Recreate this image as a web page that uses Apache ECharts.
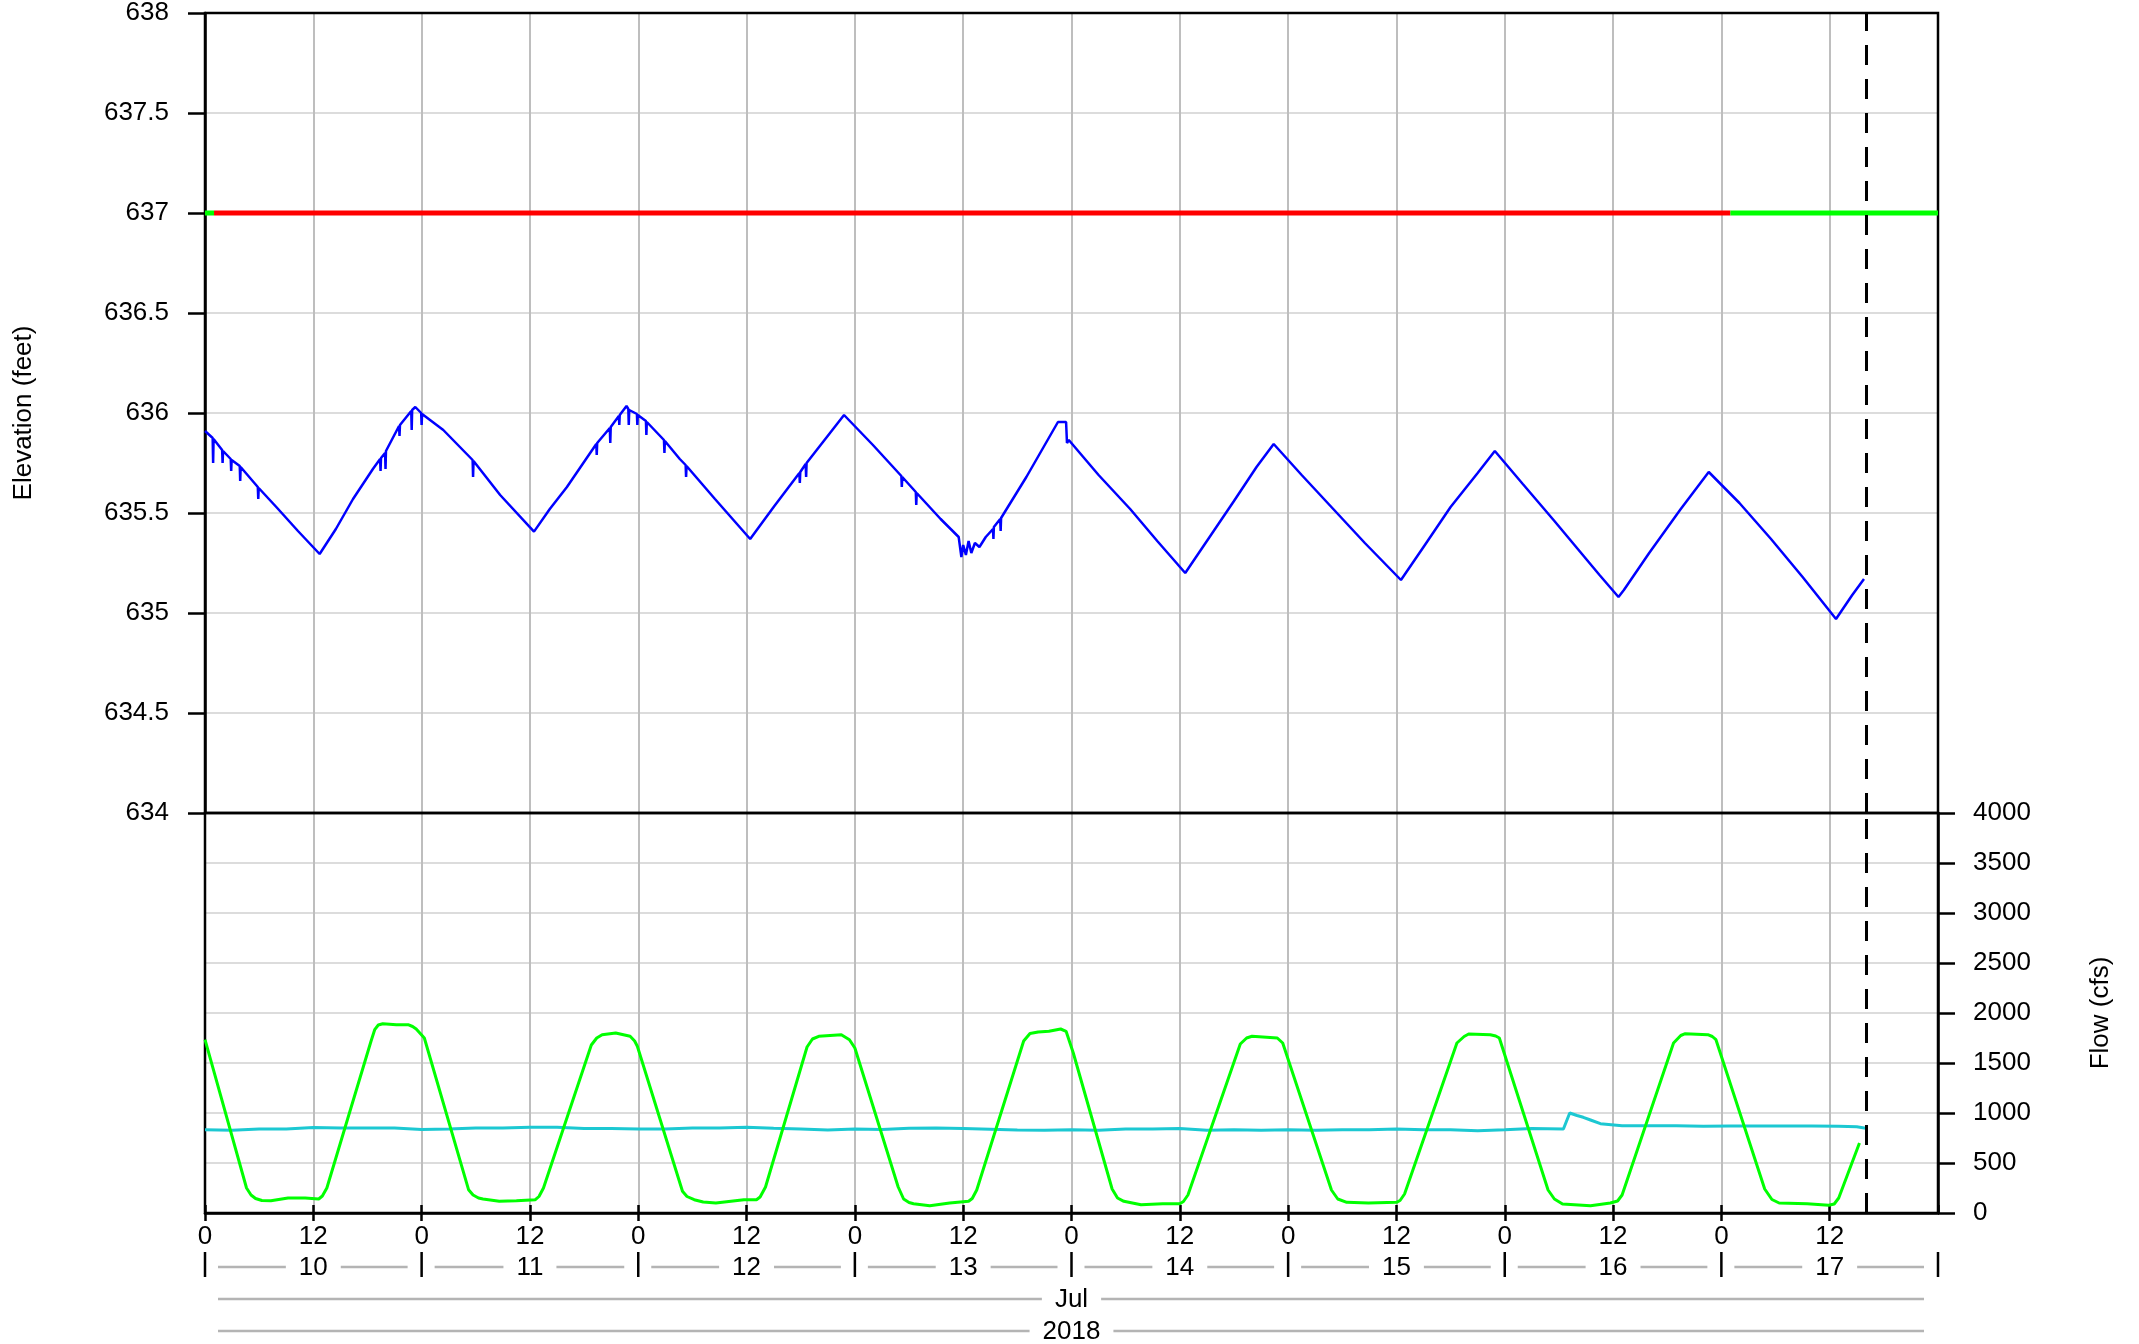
<!DOCTYPE html>
<html>
<head>
<meta charset="utf-8">
<script src="https://cdn.jsdelivr.net/npm/echarts@6/dist/echarts.min.js"></script>
<style>
  html, body { margin: 0; padding: 0; background: #fff; }
  #chart { width: 2139px; height: 1344px; }
</style>
</head>
<body>
<div id="chart"></div>
<script>
// hours are counted from 2018-07-10 00:00
const elevHours = [0, 0.85, 0.9, 0.95, 1.9, 1.95, 2.0, 2.85, 2.9, 2.95, 3.85, 3.9, 3.95, 5.85, 5.9, 5.95, 7.9, 10.3, 12.7,
  14.5, 16.4, 18.6, 19.4, 19.45, 19.5, 19.95, 20.0, 20.05, 21.5, 21.55, 21.6, 22.85, 22.9, 22.95, 23.3, 23.95, 24.0, 24.05,
  26.4, 29.65, 29.7, 29.75, 32.7, 36.45, 38.2, 40.1, 43.35, 43.4, 43.45, 44.85, 44.9, 44.95, 45.85, 45.9, 45.95, 46.7,
  46.9, 46.95, 47.0, 47.85, 47.9, 47.95, 48.85, 48.9, 48.95, 50.85, 50.9, 50.95, 52.6, 53.25, 53.3, 53.35, 56.5, 60.4,
  63.0, 65.85, 65.9, 65.95, 66.55, 66.6, 66.65, 70.8, 74.0, 77.15, 77.2, 77.25, 78.75, 78.8, 78.85, 81.5, 83.5, 83.8,
  84.0, 84.3, 84.6, 84.9, 85.3, 85.8, 86.5, 87.3, 87.35, 87.4, 88.1, 88.15, 88.2, 91.0, 94.5, 95.4, 95.5, 95.7, 99.0,
  102.5, 105.5, 108.6, 111.0, 114.0, 116.5, 118.4, 121.5, 125.0, 128.5, 132.5, 135.0, 138.0, 141.0, 142.9, 146.0, 149.5,
  152.0, 154.5, 156.6, 157.2, 160.0, 163.5, 166.6, 170.0, 173.5, 177.0, 180.7, 182.5, 183.8];
const elevFeet = [635.91, 635.875, 635.75, 635.87, 635.815, 635.75, 635.81, 635.77, 635.71, 635.765, 635.735, 635.66, 635.73,
  635.63, 635.57, 635.625, 635.53, 635.41, 635.295,
  635.42, 635.57, 635.72, 635.77, 635.71, 635.775, 635.80, 635.72, 635.81, 635.935, 635.885, 635.94, 636.01, 635.915,
  636.015, 636.03, 636.0, 635.94, 635.995,
  635.915, 635.765, 635.68, 635.76, 635.59, 635.407, 635.52, 635.63, 635.845, 635.79, 635.85, 635.925, 635.85, 635.93,
  635.985, 635.94, 635.99, 636.035,
  636.02, 635.94, 636.015, 635.995, 635.94, 635.99, 635.96, 635.89, 635.955, 635.865, 635.80, 635.86, 635.77, 635.74,
  635.68, 635.735, 635.57, 635.37,
  635.53, 635.70, 635.65, 635.705, 635.745, 635.68, 635.75, 635.99, 635.84, 635.685, 635.63, 635.68, 635.605, 635.54,
  635.60, 635.47, 635.38, 635.28,
  635.34, 635.29, 635.36, 635.30, 635.35, 635.33, 635.38, 635.42, 635.37, 635.43, 635.47, 635.41, 635.475, 635.68,
  635.955, 635.955, 635.85, 635.865, 635.69,
  635.52, 635.36, 635.20, 635.36, 635.56, 635.73, 635.845, 635.69, 635.52, 635.35, 635.165, 635.33, 635.53, 635.70,
  635.81, 635.645, 635.46,
  635.325, 635.19, 635.08, 635.115, 635.30, 635.52, 635.705, 635.55, 635.37, 635.18, 634.97, 635.09, 635.17];

// guide level at 637 ft, split where its status changes
const guideLevel = 637;
const guideBreaks = [0, 1, 169, 192];
const guideStatus = ['met', 'below', 'met'];

const outflowHours = [0, 4.6, 5.1, 5.6, 6.3, 7.3, 9.2, 11.1, 12.6, 13.0, 13.5, 18.4, 18.8, 19.2, 19.7, 21.2, 22.5, 23.0,
  23.4, 24.3, 29.2, 29.7, 30.3, 30.8, 32.6, 34.5, 36.6, 37.0, 37.5, 42.8, 43.4, 44, 45.5, 47.1, 47.6, 47.9, 52.9, 53.4,
  54.2, 55.2, 56.6, 59.7, 61.1, 61.5, 62.1, 66.7, 67.3, 68, 70.5, 71.4, 72, 76.8, 77.4, 78.0, 78.5, 80.3, 82.5, 84.6,
  85.0, 85.5, 90.7, 91.4, 92.3, 93.5, 94.8, 95.4, 96.2, 100.5, 101.1, 101.8, 103.7, 106.1, 108, 108.4, 108.9, 114.7,
  115.4, 116, 118.8, 119.4, 124.8, 125.5, 126.5, 128.9, 132, 132.4, 132.9, 138.7, 139.5, 140, 142.4, 143.0, 143.4, 148.8,
  149.5, 150.4, 153.5, 155.7, 156.5, 157.0, 162.7, 163.5, 164, 166.5, 167.0, 167.4, 172.8, 173.6, 174.4, 177.5, 179.9,
  180.5, 181.0, 183.3];
const outflowCfs = [1733, 250, 180, 145, 125, 123, 150, 150, 140, 170, 250, 1720, 1833, 1880, 1893, 1883, 1883, 1865,
  1840, 1750, 233, 180, 150, 140, 117, 123, 133, 165, 250, 1680, 1750, 1783, 1800, 1767, 1720, 1667, 217, 165,
  133, 110, 100, 133, 133, 160, 260, 1660, 1740, 1767, 1783, 1733, 1650, 260, 140, 105, 93, 73, 100, 117,
  145, 230, 1720, 1795, 1810, 1817, 1840, 1817, 1600, 240, 150, 117, 83, 93, 93, 115, 180, 1690,
  1750, 1767, 1750, 1700, 230, 140, 107, 100, 107, 125, 190, 1700, 1765, 1790, 1783, 1770, 1750, 230,
  140, 90, 73, 100, 120, 180, 1700, 1775, 1793, 1783, 1765, 1733, 240, 135, 100, 93, 77,
  90, 150, 700];

const inflowHours = [0, 3, 6, 9, 12, 15, 18, 21, 24, 27, 30, 33, 36, 39, 42, 45, 48, 51, 54, 57, 60, 63, 66, 69, 72, 75,
  78, 81, 84, 87, 90, 93, 96, 99, 102, 105, 108, 111, 114, 117, 120, 123, 126, 129, 132, 135, 138, 141, 144, 147, 150.5,
  151.2, 152, 152.7, 153.5, 154.6, 157, 160, 163, 166, 169, 172, 175, 178, 181, 183, 184];
const inflowCfs = [833, 827, 840, 840, 855, 850, 850, 850, 835, 840, 850, 850, 858, 858, 845, 845, 840, 840, 850, 850,
  857, 848, 840, 830, 840, 835, 848, 850, 845, 838, 830, 828, 833, 827, 840, 840, 845, 827, 833, 827, 833, 827, 833,
  833, 840, 833, 833, 823, 833, 845, 840, 1000, 975, 957, 930, 893, 873, 873, 873, 867, 870, 870, 870, 870, 868, 862, 848];

const nowHour = 184;
const hourTicks = 12;
const elevTicks = 0.5;
const flowTicks = 500;

const dayNumbers = [10, 11, 12, 13, 14, 15, 16, 17];
const monthLabel = 'Jul';
const yearLabel = '2018';

const FONT = '"Liberation Sans", Arial, sans-serif';
const FS = 26;
const X_MIN = 0, X_MAX = 192;
const statusColor = { met: '#00ff00', below: '#ff0000' };

function pairs(xs, ys) { return xs.map((x, i) => [x, ys[i]]); }

// rows under the axis: days, then month, then year
const labelItems = [];
const labelTexts = [];
dayNumbers.forEach((d, i) => {
  labelItems.push([i * 24, i * 24 + 24, 0]);
  labelTexts.push(String(d));
});
labelItems.push([X_MIN, X_MAX, 1]); labelTexts.push(monthLabel);
labelItems.push([X_MIN, X_MAX, 2]); labelTexts.push(yearLabel);

function renderLabelRow(params, api) {
  const row = api.value(2);
  const a = api.coord([api.value(0), row]);
  const b = api.coord([api.value(1), row]);
  const y = a[1];
  const children = [
    { type: 'line', shape: { x1: a[0] + 13, y1: y, x2: b[0] - 14, y2: y },
      style: { stroke: '#b4b4b4', lineWidth: 2.5 } },
    { type: 'text', x: (a[0] + b[0]) / 2, y: y + 1,
      style: { text: labelTexts[params.dataIndex], align: 'center', verticalAlign: 'middle', fill: '#000',
        fontSize: FS, fontFamily: FONT, backgroundColor: '#fff', padding: [0, 13] } }
  ];
  if (row === 0) {
    children.push({ type: 'line', shape: { x1: a[0], y1: y - 15, x2: a[0], y2: y + 10 },
      style: { stroke: '#000', lineWidth: 2.5 } });
    if (params.dataIndex === dayNumbers.length - 1) {
      children.push({ type: 'line', shape: { x1: b[0], y1: y - 15, x2: b[0], y2: y + 10 },
        style: { stroke: '#000', lineWidth: 2.5 } });
    }
  }
  return { type: 'group', children };
}

const nowLine = {
  silent: true, symbol: ['none', 'none'], label: { show: false },
  lineStyle: { color: '#000', width: 3, type: [20, 14] },
  data: [{ xAxis: nowHour }]
};

const guideSeries = guideStatus.map((s, i) => ({
  type: 'line', xAxisIndex: 0, yAxisIndex: 0, showSymbol: false, silent: true,
  data: [[guideBreaks[i], guideLevel], [guideBreaks[i + 1], guideLevel]],
  lineStyle: { color: statusColor[s], width: 5 }
}));

const baseX = {
  type: 'value', min: X_MIN, max: X_MAX, interval: hourTicks,
  axisLine: { show: false, onZero: false }, axisTick: { show: false }, axisLabel: { show: false },
  splitLine: { show: false }
};

const option = {
  animation: false,
  backgroundColor: '#fff',
  textStyle: { fontFamily: FONT },
  grid: [
    { left: 205, width: 1733, top: 13, height: 800, show: true, z: 1, borderColor: '#000', borderWidth: 2.5 },
    { left: 205, width: 1733, top: 813, height: 400, show: true, z: 1, borderColor: '#000', borderWidth: 2.5 },
    { left: 205, width: 1733, top: 1267, height: 64 }
  ],
  xAxis: [
    Object.assign({}, baseX, { gridIndex: 0,
      splitLine: { show: true, lineStyle: { color: '#bebebe', width: 2 } } }),
    Object.assign({}, baseX, { gridIndex: 1, position: 'bottom',
      axisLine: { show: true, onZero: false, lineStyle: { color: '#000', width: 2.5 } },
      axisTick: { show: true, length: 8, lineStyle: { color: '#000', width: 2.5 } },
      axisLabel: { show: true, margin: 11, fontSize: FS, color: '#000', fontFamily: FONT, showMaxLabel: false,
        formatter: v => String(v % 24) },
      splitLine: { show: true, lineStyle: { color: '#bebebe', width: 2 } } }),
    Object.assign({}, baseX, { gridIndex: 1, position: 'bottom',
      axisTick: { show: true, inside: true, length: 8, lineStyle: { color: '#000', width: 2.5 } } }),
    Object.assign({}, baseX, { gridIndex: 2, show: false })
  ],
  yAxis: [
    { type: 'value', gridIndex: 0, position: 'left', min: 634, max: 638, interval: elevTicks,
      name: 'Elevation (feet)', nameLocation: 'middle', nameRotate: 90, nameGap: 168,
      nameTextStyle: { fontSize: FS, color: '#000', fontFamily: FONT },
      axisLine: { show: true, onZero: false, lineStyle: { color: '#000', width: 2.5 } },
      axisTick: { show: true, length: 17, lineStyle: { color: '#000', width: 2.5 } },
      axisLabel: { margin: 36, fontSize: FS, color: '#000', fontFamily: FONT },
      splitLine: { show: true, lineStyle: { color: '#dcdcdc', width: 2 } } },
    { type: 'value', gridIndex: 1, position: 'right', min: 0, max: 4000, interval: flowTicks,
      name: 'Flow (cfs)', nameLocation: 'middle', nameRotate: 90, nameGap: 150,
      nameTextStyle: { fontSize: FS, color: '#000', fontFamily: FONT },
      axisLine: { show: true, onZero: false, lineStyle: { color: '#000', width: 2.5 } },
      axisTick: { show: true, length: 17, lineStyle: { color: '#000', width: 2.5 } },
      axisLabel: { margin: 35, fontSize: FS, color: '#000', fontFamily: FONT, formatter: v => String(v) },
      splitLine: { show: true, lineStyle: { color: '#dcdcdc', width: 2 } } },
    { type: 'value', gridIndex: 2, min: 0, max: 2, inverse: true, show: false }
  ],
  series: [
    ...guideSeries,
    { name: 'Elevation', type: 'line', xAxisIndex: 0, yAxisIndex: 0, showSymbol: false,
      data: pairs(elevHours, elevFeet), lineStyle: { color: '#0000ff', width: 2.5 }, markLine: nowLine },
    { name: 'Inflow', type: 'line', xAxisIndex: 1, yAxisIndex: 1, showSymbol: false,
      data: pairs(inflowHours, inflowCfs), lineStyle: { color: '#1cc8d2', width: 3 } },
    { name: 'Outflow', type: 'line', xAxisIndex: 1, yAxisIndex: 1, showSymbol: false,
      data: pairs(outflowHours, outflowCfs), lineStyle: { color: '#00ff00', width: 3 }, markLine: nowLine },
    { type: 'custom', xAxisIndex: 3, yAxisIndex: 2, silent: true, clip: false,
      data: labelItems, renderItem: renderLabelRow }
  ]
};

const chart = echarts.init(document.getElementById('chart'), null, { renderer: 'canvas' });
chart.setOption(option);
</script>
</body>
</html>
